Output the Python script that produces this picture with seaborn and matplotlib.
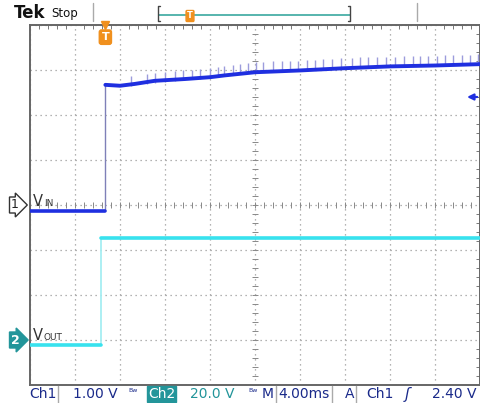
import numpy as np
import pandas as pd
import matplotlib
matplotlib.use('Agg')
import matplotlib.pyplot as plt
import seaborn as sns
from matplotlib.lines import Line2D

# scope settings
ch1_scale = 1.00      # V/div
ch2_scale = 20.0      # V/div
ch1_pos = 0.0         # div
ch2_pos = -3.0        # div
time_div = 4.00       # ms/div
trig_level = 2.40     # V

# Ch1 (VIN) trace, volts vs ms
ch1_pre_t = [-20.0, -13.3]
ch1_pre_v = [-0.13, -0.13]
ch1_t = [-13.3, -12.0, -10.7, -8.9, -6.2, -4.0, -2.7, 0.0, 4.0, 8.0, 12.0, 16.0, 20.0]
ch1_v = [2.67, 2.65, 2.69, 2.76, 2.80, 2.84, 2.88, 2.95, 2.99, 3.04, 3.08, 3.10, 3.13]

# switching spikes riding on Ch1 (time, top voltage)
spike_t = [-11.0, -9.6, -8.9, -8.0, -7.1, -6.4, -5.6, -4.9, -4.0, -3.3, -2.8, -2.0,
           -1.3, -0.6, 0.1, 0.7, 1.6, 2.4, 3.1, 3.8, 4.6, 5.3, 6.0, 6.8, 7.6, 8.6,
           9.3, 10.0, 10.8, 11.6, 12.4, 13.2, 14.0, 14.7, 15.4, 16.2, 16.9, 17.6,
           18.4, 19.1, 19.8]
spike_v = [2.87, 2.92, 2.93, 2.96, 2.97, 2.99, 3.01, 3.02, 3.04, 3.06, 3.09, 3.11,
           3.13, 3.15, 3.17, 3.17, 3.19, 3.20, 3.20, 3.21, 3.22, 3.23, 3.24, 3.25,
           3.26, 3.27, 3.28, 3.28, 3.29, 3.30, 3.30, 3.31, 3.31, 3.32, 3.32, 3.32,
           3.33, 3.33, 3.34, 3.34, 3.35]

# Ch2 (VOUT) trace, volts vs ms
ch2_pre_t = [-20.0, -13.7]
ch2_pre_v = [-2.2, -2.2]
ch2_t = [-13.7, 20.0]
ch2_v = [45.3, 45.3]

W, H = 480, 403
blue = '#1f2fe0'
cyan = '#38e2ee'
navy = '#1a2a8a'
teal = '#23959a'
orange = '#f0901e'


def d1(v):
    return np.asarray(v) / ch1_scale + ch1_pos


def d2(v):
    return np.asarray(v) / ch2_scale + ch2_pos


def fx(x):
    return x / W


def fy(y):
    return 1 - y / H


sns.set_style('white')
fig = plt.figure(figsize=(4.8, 4.03), dpi=100)
ax = fig.add_axes([30 / W, 18 / H, 450 / W, 360 / H])

# graticule
ax.set_xlim(-5 * time_div, 5 * time_div)
ax.set_ylim(-4, 4)
ax.set_xticks(np.arange(-5, 6) * time_div)
ax.set_yticks(np.arange(-4, 5))
minor_x = np.arange(-25, 26) * time_div / 5
minor_y = np.arange(-20, 21) / 5
ax.set_xticks(minor_x, minor=True)
ax.set_yticks(minor_y, minor=True)
ax.tick_params(which='both', direction='in', top=True, right=True,
               labelbottom=False, labelleft=False, color='#777')
ax.tick_params(which='major', length=0)
ax.tick_params(which='minor', length=3, width=0.7)
ax.grid(True, which='major', ls=(0, (1, 3)), color='#9a9a9a', lw=0.9)
for s in ax.spines.values():
    s.set_color('#666')
    s.set_linewidth(1.4)
ax.plot(minor_x, np.zeros_like(minor_x), ls='none', marker='|', ms=5, mew=0.7, color='#888')
ax.plot(np.zeros_like(minor_y), minor_y, ls='none', marker='_', ms=5, mew=0.7, color='#888')

# Ch2 trace
ax.vlines(ch2_t[0], d2(ch2_pre_v[-1]), d2(ch2_v[0]), color='#a6eef2', lw=1.3, zorder=3)
sns.lineplot(x=ch2_pre_t, y=d2(ch2_pre_v), ax=ax, color=cyan, lw=2.6, sort=False, estimator=None, zorder=4)
sns.lineplot(x=ch2_t, y=d2(ch2_v), ax=ax, color=cyan, lw=2.6, sort=False, estimator=None, zorder=4)

# Ch1 trace
ax.vlines(ch1_t[0], d1(ch1_pre_v[-1]), d1(ch1_v[0]), color='#7f80b8', lw=1.0, zorder=3)
ax.vlines(spike_t, d1(spike_v) - 0.22, d1(spike_v), color='#9c9cdc', lw=1.0, zorder=4)
sns.lineplot(x=ch1_pre_t, y=d1(ch1_pre_v), ax=ax, color=blue, lw=2.6, sort=False, estimator=None, zorder=5)
sns.lineplot(x=ch1_t, y=d1(ch1_v), ax=ax, color=blue, lw=2.8, sort=False, estimator=None, zorder=5)

# trigger level arrow
ax.annotate('', xy=(18.6, d1(trig_level)), xytext=(20.0, d1(trig_level)),
            arrowprops=dict(arrowstyle='-|>', color=blue, lw=1.6, mutation_scale=9),
            annotation_clip=False)

# trigger position marker
ax.plot([ch1_t[0]], [4.0], marker='v', color=orange, ms=6, clip_on=False, zorder=6)
ax.text(ch1_t[0], 3.73, 'T', color='white', fontsize=8, fontweight='bold', ha='center', va='center',
        bbox=dict(boxstyle='round,pad=0.2', fc=orange, ec=orange), zorder=6)

# header
fig.text(fx(14), fy(13), 'Tek', fontsize=12, fontweight='bold', va='center', color='#111')
fig.text(fx(51), fy(13), 'Stop', fontsize=8.5, va='center', color='#111')
for xs in (93, 417):
    fig.add_artist(Line2D([fx(xs), fx(xs)], [fy(3), fy(21)], color='#aaa', lw=1))
fig.add_artist(Line2D([fx(159), fx(350)], [fy(15), fy(15)], color='#3aa8a0', lw=1.2))
fig.add_artist(Line2D([fx(160), fx(158), fx(158), fx(160)], [fy(6), fy(6), fy(21), fy(21)], color='#444', lw=1))
fig.add_artist(Line2D([fx(348), fx(350), fx(350), fx(348)], [fy(6), fy(6), fy(21), fy(21)], color='#444', lw=1))
fig.text(fx(190), fy(16), 'T', fontsize=6, fontweight='bold', color='white', ha='center', va='center',
         bbox=dict(boxstyle='round,pad=0.12', fc=orange, ec=orange))

# channel markers and labels
fig.text(fx(11), fy(205), '1', fontsize=9, color='#222', va='center',
         bbox=dict(boxstyle='rarrow,pad=0.12', fc='white', ec='#333', lw=1))
fig.text(fx(11), fy(340), '2', fontsize=9, color='white', fontweight='bold', va='center',
         bbox=dict(boxstyle='rarrow,pad=0.12', fc=teal, ec=teal, lw=1))
fig.text(fx(33), fy(206), 'V', fontsize=10.5, color='#333', va='baseline')
fig.text(fx(44), fy(206), 'IN', fontsize=6.5, color='#333', va='baseline')
fig.text(fx(33), fy(340), 'V', fontsize=10.5, color='#333', va='baseline')
fig.text(fx(44), fy(340), 'OUT', fontsize=6.5, color='#333', va='baseline')

# status bar
yb = fy(394)
fig.text(fx(29), yb, 'Ch1', fontsize=10, color=navy, va='center')
fig.text(fx(73), yb, '1.00 V', fontsize=10, color=navy, va='center')
fig.text(fx(128), fy(391), 'Bw', fontsize=4.5, color=navy, va='center')
fig.text(fx(148), yb, 'Ch2', fontsize=10, color='white', va='center',
         bbox=dict(boxstyle='square,pad=0.08', fc=teal, ec=teal))
fig.text(fx(190), yb, '20.0 V', fontsize=10, color=teal, va='center')
fig.text(fx(248), fy(391), 'Bw', fontsize=4.5, color=navy, va='center')
fig.text(fx(262), yb, 'M', fontsize=10, color=navy, va='center')
fig.text(fx(278), yb, '4.00ms', fontsize=10, color=navy, va='center')
fig.text(fx(345), yb, 'A', fontsize=10, color=navy, va='center')
fig.text(fx(366), yb, 'Ch1', fontsize=10, color=navy, va='center')
fig.text(fx(405), yb, 'ʃ', fontsize=11, color=navy, va='center', fontstyle='italic')
fig.text(fx(432), yb, '2.40 V', fontsize=10, color=navy, va='center')
for xs in (58, 276, 332, 356):
    fig.add_artist(Line2D([fx(xs), fx(xs)], [fy(386), fy(403)], color='#aaa', lw=1))

fig.savefig('out.png', dpi=100)
